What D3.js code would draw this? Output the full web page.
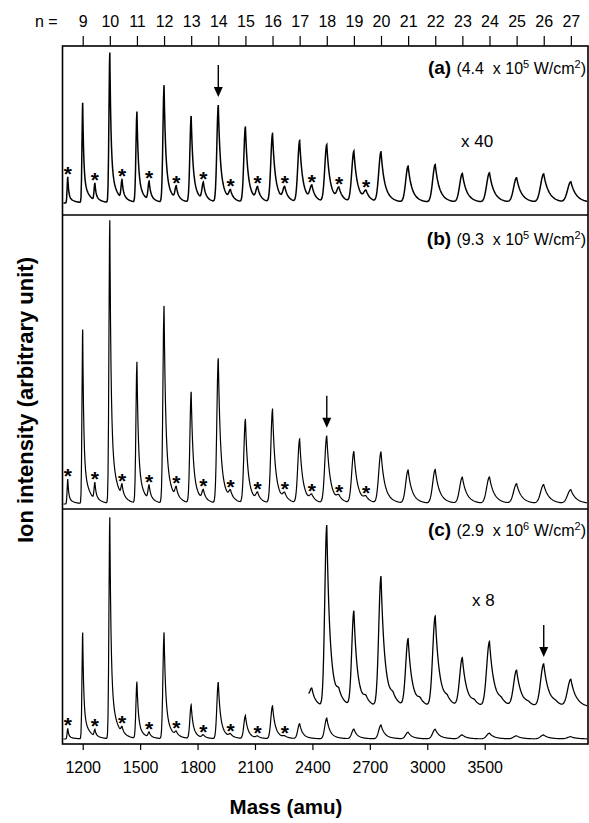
<!DOCTYPE html>
<html>
<head>
<meta charset="utf-8">
<script src="https://cdn.jsdelivr.net/npm/d3@7"></script>
<style>
body { margin: 0; background: #fff; }
text { font-family: Arial, "Liberation Sans", Helvetica, sans-serif; fill: #000; }
</style>
</head>
<body>
<script>
// cluster size n (top axis) and mass ticks (bottom axis)
const nTicks = [9, 10, 11, 12, 13, 14, 15, 16, 17, 18, 19, 20, 21, 22, 23, 24, 25, 26, 27];
const massTicks = [1200, 1500, 1800, 2100, 2400, 2700, 3000, 3300];
const massTickLabels = ["1200", "1500", "1800", "2100", "2400", "2700", "3000", "3500"];

// main peak heights for n = 9..27 (arbitrary unit, tallest = 100)
const peaksA = [66.5, 100, 60.5, 78, 57.5, 64.7, 50.5, 45.8, 40.9, 38.2, 33.8, 33.5, 24.2, 25.3, 19.3, 19.8, 16.5, 19.1, 13.8];
const peaksB = [61.5, 100, 49.9, 69.7, 39.3, 51.2, 29.7, 33.2, 22.6, 23.8, 18.3, 18.1, 11.8, 12.0, 9.3, 9.4, 7.0, 6.7, 4.9];
const peaksC = [48.0, 100, 25.6, 48.0, 15.2, 25.6, 10.4, 14.9, 6.8, 9.4, 4.4, 6.3, 3.0, 4.4, 1.8, 2.6, 1.4, 1.8, 1.0];

// small satellite peaks (marked *), starting between n = 8 and 9
const starsA = [17.5, 11.5, 12.5, 12.5, 8.5, 11.5, 6, 8.5, 8.5, 9.5, 8, 6];
const starsB = [8.8, 6.0, 4.0, 5.0, 3.6, 3.5, 2.7, 2.7, 2.3, 2.1, 1.7, 1.5];
const starsC = [4.8, 3.0, 2.6, 2.3, 1.8, 1.3, 1.3, 0.9, 0.7];

// x 8 trace in panel (c), n = 17..27, and its small bumps
const zoomC = [50, 82, 43, 59, 30.5, 41, 22, 29.5, 16.5, 19.5, 12.5];
const zoomCSmall = [6, 3.5, 2.5, 2.5, 2, 2, 1.5, 1.5, 1, 1];
const zoomCOffset = 14;
const zoomCStart = 2380;

const width = 589, height = 823;
const left = 62.5, right = 588;

const svg = d3.select("body").append("svg")
    .attr("width", width)
    .attr("height", height);

const x = d3.scaleLinear().domain([1094.5, 3839.6]).range([left, right]);
const nScale = d3.scaleLinear().domain([9, 27]).range([x(1200), x(3750)]);

// peak line shape (pixels): sharp rise, tailing decay, wider for heavier clusters
function shape(dx, n) {
    const s = 0.5 + 0.1 * (n - 9);
    if (dx < 0) return Math.exp(-0.5 * (dx / (1.4 * s)) ** 2);
    return 0.75 * Math.exp(-dx / (2 * s)) + 0.25 * Math.exp(-dx / (7 * (0.6 + 0.4 * s)));
}

function makePeaks(main, n0, small, s0) {
    let list = main.map((h, i) => ({n: n0 + i, h: h}));
    small.forEach((h, i) => list.push({n: s0 + i + 0.45, h: h}));
    return list;
}
const spectrum = (peaks, px) => d3.sum(peaks, p => p.h * shape(px - nScale(p.n), p.n));

// sample grid plus every peak centre, so the tops are not clipped
function grid(peaks, x0) {
    const pts = d3.range(x0, right - 0.5, 0.5)
        .concat(peaks.map(p => nScale(p.n)).filter(px => px > x0 && px < right - 0.5));
    return pts.sort((a, b) => a - b);
}

const panels = [
    {id: "a", top: 46, bottom: 215, domain: [-8, 104.7], peaks: makePeaks(peaksA, 9, starsA, 8), nStars: starsA.length,
     label: "(a)", power: ["(4.4  x 10", "5", " W/cm", "2", ")"], labelY: 74, arrow: 14},
    {id: "b", top: 215, bottom: 509, domain: [-1.77, 102.1], peaks: makePeaks(peaksB, 9, starsB, 8), nStars: starsB.length,
     label: "(b)", power: ["(9.3  x 10", "5", " W/cm", "2", ")"], labelY: 245, arrow: 18},
    {id: "c", top: 509, bottom: 744, domain: [-2.26, 103.9], peaks: makePeaks(peaksC, 9, starsC, 8), nStars: starsC.length,
     label: "(c)", power: ["(2.9  x 10", "6", " W/cm", "2", ")"], labelY: 536, arrow: null}
];

const line = d3.line();

function drawArrow(g, px, tipY) {
    g.append("line")
        .attr("x1", px).attr("x2", px)
        .attr("y1", tipY - 32).attr("y2", tipY - 8)
        .attr("stroke", "#000").attr("stroke-width", 1.4);
    g.append("path")
        .attr("d", `M${px - 4.5},${tipY - 10}L${px + 4.5},${tipY - 10}L${px},${tipY}Z`)
        .attr("fill", "#000");
}

panels.forEach(p => {
    const y = d3.scaleLinear().domain(p.domain).range([p.bottom, p.top]);
    const g = svg.append("g").attr("class", "panel-" + p.id);

    g.append("path")
        .attr("d", line(grid(p.peaks, left + 1).map(px => [px, y(spectrum(p.peaks, px))])))
        .attr("fill", "none")
        .attr("stroke", "#000")
        .attr("stroke-width", p.id == "a" ? 1.5 : 1.2);

    // asterisks over satellite peaks
    g.selectAll("text.star")
        .data(d3.range(p.nStars))
        .enter()
        .append("text")
        .attr("class", "star")
        .attr("x", i => nScale(8 + i + 0.45))
        .attr("y", i => y(spectrum(p.peaks, nScale(8 + i + 0.45))) - 8 + 12)
        .attr("text-anchor", "middle")
        .attr("font-size", 21)
        .attr("font-weight", "bold")
        .text("*");

    if (p.arrow) {
        const px = nScale(p.arrow);
        drawArrow(g, px, y(spectrum(p.peaks, px)) - 8);
    }

    const t = g.append("text")
        .attr("x", 586)
        .attr("y", p.labelY)
        .attr("text-anchor", "end")
        .style("white-space", "pre");
    t.append("tspan").attr("font-weight", "bold").attr("font-size", 19).text(p.label + " ");
    p.power.forEach((s, i) => {
        t.append("tspan")
            .attr("font-size", i % 2 ? 11 : 16)
            .attr("dy", i == 0 ? 0 : (i % 2 ? -6 : 6))
            .text(s);
    });

    if (p.id == "c") {
        // x 8 magnified trace
        const zPeaks = makePeaks(zoomC, 17, zoomCSmall, 17);
        g.append("path")
            .attr("d", line(grid(zPeaks, x(zoomCStart)).map(px => [px, y(zoomCOffset + spectrum(zPeaks, px))])))
            .attr("fill", "none")
            .attr("stroke", "#000")
            .attr("stroke-width", 1.3);
        const px = nScale(26);
        drawArrow(g, px, y(zoomCOffset + spectrum(zPeaks, px)) - 7);
        g.append("text").attr("x", 472).attr("y", 606).attr("font-size", 17).text("x 8");
    }
    if (p.id == "a") {
        g.append("text").attr("x", 461).attr("y", 147).attr("font-size", 17).text("x 40");
    }
});

// frame and panel separators
svg.append("rect")
    .attr("x", left).attr("y", 46)
    .attr("width", right - left).attr("height", 744 - 46)
    .attr("fill", "none").attr("stroke", "#000").attr("stroke-width", 1.6);
[215, 509].forEach(yy => {
    svg.append("line")
        .attr("x1", left).attr("x2", right)
        .attr("y1", yy).attr("y2", yy)
        .attr("stroke", "#000").attr("stroke-width", 1.6);
});

// top axis: cluster size n
const topAxis = svg.append("g")
    .attr("transform", "translate(0,46)")
    .call(d3.axisTop(nScale).tickValues(nTicks).tickSize(10).tickPadding(9).tickFormat(d3.format("d")));
topAxis.select(".domain").remove();
topAxis.selectAll("text").attr("font-size", 16).attr("font-family", null);
topAxis.selectAll("line").attr("stroke-width", 1.2);
svg.append("text").attr("x", 35).attr("y", 27).attr("font-size", 16).text("n =");

// bottom axis: mass
const bottomAxis = svg.append("g")
    .attr("transform", "translate(0,744)")
    .call(d3.axisBottom(x).tickValues(massTicks).tickSize(6).tickPadding(11.5)
        .tickFormat((d, i) => massTickLabels[i]));
bottomAxis.select(".domain").remove();
bottomAxis.selectAll("text").attr("font-size", 16).attr("font-family", null);
bottomAxis.selectAll("line").attr("stroke-width", 1.2);

svg.append("text")
    .attr("x", 286).attr("y", 814)
    .attr("text-anchor", "middle")
    .attr("font-size", 20.5).attr("font-weight", "bold")
    .text("Mass (amu)");

svg.append("text")
    .attr("transform", "translate(33,400) rotate(-90)")
    .attr("text-anchor", "middle")
    .attr("font-size", 22).attr("font-weight", "bold")
    .text("Ion intensity (arbitrary unit)");
</script>
</body>
</html>
